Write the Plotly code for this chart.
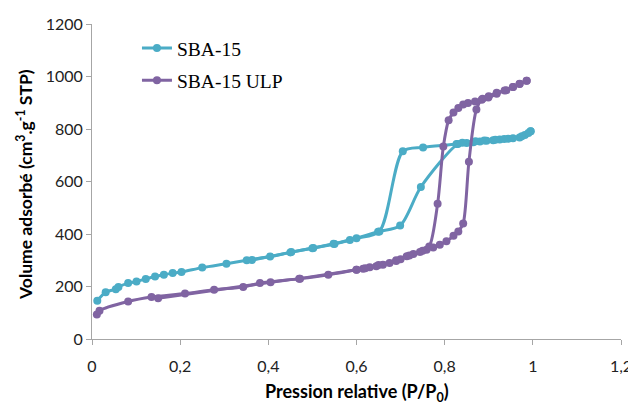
import plotly.graph_objects as go

# SBA-15 (adsorption / desorption branches)
sba_ads_x = [0.012, 0.031, 0.054, 0.06, 0.082, 0.101, 0.122, 0.143, 0.163, 0.183, 0.203, 0.25,
             0.305, 0.351, 0.404, 0.452, 0.502, 0.548, 0.585, 0.649, 0.699, 0.746, 0.83,
             0.85, 0.865, 0.88, 0.895, 0.91, 0.925, 0.944, 0.97, 0.982, 0.995]
sba_ads_y = [146, 178, 190, 198, 213, 219, 229, 238, 245, 251, 255, 272,
             287, 300, 314, 331, 347, 363, 377, 409, 432, 579, 743,
             747, 750, 752, 755, 757, 760, 763, 768, 777, 791]
sba_des_x = [0.995, 0.99, 0.975, 0.955, 0.935, 0.915, 0.89, 0.87, 0.84, 0.827, 0.751, 0.705,
             0.652, 0.6, 0.55, 0.5, 0.45, 0.363]
sba_des_y = [791, 785, 772, 765, 762, 759, 756, 753, 748, 743, 730, 715,
             410, 384, 362, 346, 330, 301]

# SBA-15 ULP
ulp_ads_x = [0.011, 0.017, 0.082, 0.135, 0.211, 0.277, 0.343, 0.381, 0.472, 0.536, 0.6, 0.615,
             0.63, 0.645, 0.66, 0.675, 0.69, 0.70, 0.714, 0.729, 0.744, 0.759, 0.774, 0.789,
             0.804, 0.82, 0.831, 0.842, 0.855, 0.872, 0.886, 0.899, 0.918, 0.936, 0.955, 0.97, 0.986]
ulp_ads_y = [93, 108, 143, 160, 173, 188, 198, 213, 230, 245, 264, 268,
             273, 277, 283, 290, 297, 304, 315, 324, 331, 340, 349, 359,
             372, 393, 410, 440, 675, 874, 915, 920, 934, 947, 960, 972, 984]
ulp_des_x = [0.986, 0.97, 0.955, 0.94, 0.918, 0.9, 0.884, 0.869, 0.853, 0.842, 0.831, 0.82,
             0.809, 0.797, 0.784, 0.765, 0.75, 0.72, 0.69, 0.65, 0.62, 0.6, 0.47, 0.405, 0.15]
ulp_des_y = [984, 971, 960, 948, 938, 925, 911, 905, 899, 893, 880, 863,
             833, 733, 515, 352, 336, 318, 300, 282, 270, 264, 230, 216, 155]

x_ticks = [0, 0.2, 0.4, 0.6, 0.8, 1.0, 1.2]
x_ticktext = ["0", "0,2", "0,4", "0,6", "0,8", "1", "1,2"]
y_ticks = [0, 200, 400, 600, 800, 1000, 1200]
y_ticktext = ["0", "200", "400", "600", "800", "1000", "1200"]

CYAN = "#4BACC6"
PURPLE = "#8064A2"

fig = go.Figure()

def add(xs, ys, name, color, group, show):
    fig.add_trace(go.Scatter(
        x=xs, y=ys, name=name, mode="lines+markers",
        line=dict(color=color, width=3, shape="spline", smoothing=0.8),
        marker=dict(color=color, size=8),
        legendgroup=group, showlegend=show))

add(sba_ads_x, sba_ads_y, "SBA-15", CYAN, "a", True)
add(sba_des_x, sba_des_y, "SBA-15", CYAN, "a", False)
add(ulp_ads_x, ulp_ads_y, "SBA-15 ULP", PURPLE, "b", True)
add(ulp_des_x, ulp_des_y, "SBA-15 ULP", PURPLE, "b", False)

axis_font = dict(family="Lato, Open Sans, sans-serif", size=16, color="#222222")
title_font = dict(family="Lato, Open Sans, sans-serif", size=17.5, color="#000")

# the page body adds an 8px offset, so the figure is 8px smaller and margins shifted
fig.update_layout(
    width=628, height=397,
    margin=dict(l=84, r=15, t=16, b=66, autoexpand=False),
    plot_bgcolor="white", paper_bgcolor="white",
    legend=dict(x=0.085, y=0.985, xanchor="left", yanchor="top",
                font=dict(family="Liberation Serif, Times New Roman, serif", size=19.5, color="#000"),
                bgcolor="rgba(0,0,0,0)", tracegroupgap=4),
    xaxis=dict(range=[0, 1.2], tickvals=x_ticks, ticktext=x_ticktext,
               showgrid=False, zeroline=False, showline=True, linecolor="#A6A6A6", linewidth=1,
               ticks="outside", ticklen=5, tickcolor="#A6A6A6", tickfont=axis_font,
               ticklabelstandoff=8),
    yaxis=dict(range=[0, 1200], tickvals=y_ticks, ticktext=y_ticktext,
               showgrid=False, zeroline=False, showline=True, linecolor="#A6A6A6", linewidth=1,
               ticks="outside", ticklen=5, tickcolor="#A6A6A6", tickfont=axis_font,
               ticklabelstandoff=0),
    annotations=[
        dict(text="<b>Volume adsorbé (cm<sup>3</sup>.g<sup>-1</sup> STP)</b>",
             font=title_font, textangle=-90, showarrow=False,
             xref="paper", yref="paper", x=-0.128, y=0.49,
             xanchor="center", yanchor="middle"),
        dict(text="<b>Pression relative (P/P<sub>0</sub>)</b>",
             font=dict(family="Lato, Open Sans, sans-serif", size=18, color="#000"),
             showarrow=False, xref="paper", yref="paper", x=0.5, y=-0.171,
             xanchor="center", yanchor="middle"),
    ],
)

fig.write_html("out.html")
